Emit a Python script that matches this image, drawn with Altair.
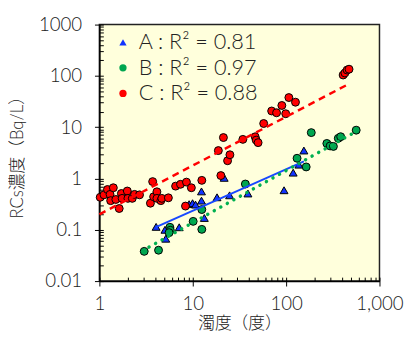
import altair as alt
import pandas as pd

# ---- data ----
series_names = ["A : R² = 0.81", "B : R² = 0.97", "C : R² = 0.88"]

A_x = [4.05, 5.04, 5.14, 7.16, 9.14, 9.95, 10.7, 12.4, 12.4, 13.3, 18.2, 21.7, 24.8, 39.0, 95, 119, 137, 155]
A_y = [0.114, 0.100, 0.067, 0.112, 0.316, 0.33, 0.31, 0.56, 0.37, 0.170, 0.43, 1.03, 0.47, 0.51, 0.59, 1.30, 1.86, 3.51]

B_x = [3.02, 4.30, 5.69, 5.75, 5.58, 10.1, 12.5, 12.5, 36.6, 131, 164, 186, 273, 296, 321, 362, 384, 563]
B_y = [0.038, 0.040, 0.112, 0.098, 0.088, 0.146, 0.248, 0.102, 0.78, 2.48, 1.68, 7.84, 4.82, 4.31, 4.22, 6.07, 6.52, 8.75]

C_x = [1.02, 1.12, 1.22, 1.30, 1.41, 1.32, 1.50, 1.63, 1.72, 1.75, 1.99, 2.02, 2.25, 2.38, 2.69,
       3.52, 3.72, 3.81, 4.13, 4.13, 4.55, 4.66, 5.48, 6.55, 7.39, 8.56, 9.66, 8.36, 12.5,
       20.0, 18.8, 21.3, 23.6, 25.0, 34.4, 46.6, 47.8, 50.1, 57.5, 70, 79, 90, 99, 107, 126,
       408, 426, 450, 472]
C_y = [0.43, 0.48, 0.61, 0.49, 0.66, 0.37, 0.39, 0.26, 0.51, 0.41, 0.57, 0.41, 0.41, 0.49, 0.48,
       0.33, 0.87, 0.44, 0.55, 0.41, 0.37, 0.41, 0.42, 0.71, 0.77, 0.85, 0.66, 0.29, 0.92,
       1.14, 3.50, 6.28, 2.22, 2.90, 5.79, 6.5, 5.6, 5.0, 11.8, 20.7, 19.1, 26.5, 18.3, 37.8, 30.7,
       104, 114, 130, 135]

# fitted trend lines (end points)
fit_A_x = [4.03, 155]
fit_A_y = [0.113, 2.15]
fit_B_x = [3.4, 580]
fit_B_y = [0.046, 8.5]
fit_C_x = [1.0, 444]
fit_C_y = [0.20, 66]

x_major = [1, 10, 100, 1000]
y_major = [0.01, 0.1, 1, 10, 100, 1000]

# ---- tables ----
pts = pd.concat([
    pd.DataFrame({"x": A_x, "y": A_y, "series": series_names[0]}),
    pd.DataFrame({"x": B_x, "y": B_y, "series": series_names[1]}),
    pd.DataFrame({"x": C_x, "y": C_y, "series": series_names[2]}),
])

x_minor = [k * 10 ** d for d in range(0, 3) for k in range(1, 10)] + [1000]
y_minor = [round(k * 10.0 ** d, 6) for d in range(-2, 3) for k in range(1, 10)] + [1000]

FONT = "Lato, Noto Sans CJK JP, sans-serif"
TXT = "#222222"
W = 300

xs = alt.Scale(type="log", domain=[1, 1000])
ys = alt.Scale(type="log", domain=[0.01, 1000])

major_x = alt.Axis(values=x_major, format=",d", title="濁度（度）", grid=False,
                   tickSize=5, tickColor="black", domainColor="black", domainWidth=1.5,
                   labelFontSize=19, titleFontSize=17, labelPadding=9, titlePadding=2,
                   labelFont=FONT, titleFont=FONT, labelColor=TXT, titleColor=TXT,
                   labelFontWeight=W, titleFontWeight=W, labelFlush=False)
major_y = alt.Axis(values=y_major, title="RCs濃度（Bq/L）", grid=False,
                   labelExpr="datum.value < 1 ? format(datum.value, '.2~f') : format(datum.value, 'd')",
                   tickSize=5, tickColor="black", domainColor="black", domainWidth=1.5,
                   labelFontSize=19, titleFontSize=17, labelPadding=13, titlePadding=12,
                   labelFont=FONT, titleFont=FONT, labelColor=TXT, titleColor=TXT,
                   labelFontWeight=W, titleFontWeight=W, labelFlush=False)

minor_x = alt.Axis(orient="top", offset=-261, values=x_minor, labels=False, domain=False,
                   tickSize=4, tickColor="black", title=None, grid=False)
minor_y = alt.Axis(orient="right", offset=-285, values=y_minor, labels=False, domain=False,
                   tickSize=4, tickColor="black", title=None, grid=False)

leg = alt.Legend(orient="none", legendX=13, legendY=7, title=None,
                 labelFontSize=22, labelFont=FONT, labelColor=TXT, labelFontWeight=W,
                 symbolSize=55, symbolStrokeColor="black", symbolStrokeWidth=1,
                 rowPadding=4, labelOffset=5, padding=0)

points = alt.Chart(pts).mark_point(filled=True, stroke="black", strokeWidth=1, size=65, opacity=1).encode(
    x=alt.X("x:Q", scale=xs, axis=major_x),
    y=alt.Y("y:Q", scale=ys, axis=major_y),
    fill=alt.Fill("series:N", scale=alt.Scale(domain=series_names, range=["#1133FF", "#00A650", "#FF0000"]), legend=leg),
    shape=alt.Shape("series:N", scale=alt.Scale(domain=series_names, range=["triangle-up", "circle", "circle"]), legend=leg),
)

line_C = alt.Chart(pd.DataFrame({"x": fit_C_x, "y": fit_C_y})).mark_line(
    color="#FF0000", strokeWidth=2.5, strokeDash=[7, 5]).encode(
    x=alt.X("x:Q", scale=xs, axis=minor_x),
    y=alt.Y("y:Q", scale=ys, axis=minor_y),
)
line_A = alt.Chart(pd.DataFrame({"x": fit_A_x, "y": fit_A_y})).mark_line(
    color="#1848FF", strokeWidth=2).encode(
    x=alt.X("x:Q", scale=xs, axis=None),
    y=alt.Y("y:Q", scale=ys, axis=None),
)
line_B = alt.Chart(pd.DataFrame({"x": fit_B_x, "y": fit_B_y})).mark_line(
    color="#00B050", strokeWidth=3.5, strokeDash=[0.1, 7.5], strokeCap="round").encode(
    x=alt.X("x:Q", scale=xs, axis=None),
    y=alt.Y("y:Q", scale=ys, axis=None),
)

chart = alt.layer(points, line_C, line_A, line_B).resolve_axis(
    x="independent", y="independent"
).properties(
    width=285, height=261,
    autosize=alt.AutoSizeParams(type="none"),
    padding={"left": 93, "top": 14, "right": 28, "bottom": 54},
    background="white",
).configure_view(
    fill="#FFFFDC", stroke="#222222", strokeWidth=1.5
)

chart.save("out.html", embed_options={"renderer": "svg", "actions": False})
